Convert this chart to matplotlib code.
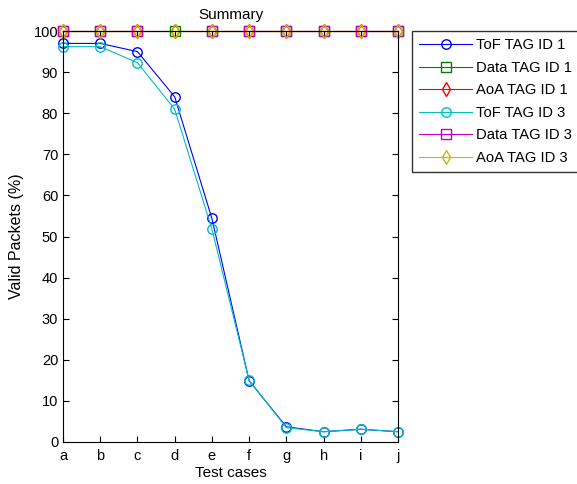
import matplotlib.pyplot as plt
import numpy as np

plt.rcParams['font.family'] = ['Liberation Sans', 'DejaVu Sans']

cases = ['a', 'b', 'c', 'd', 'e', 'f', 'g', 'h', 'i', 'j']
tof_1 = [97.0, 97.0, 95.0, 84.0, 54.4, 14.9, 3.7, 2.5, 3.1, 2.5]
data_1 = [100, 100, 100, 100, 100, 100, 100, 100, 100, 100]
aoa_1 = [100, 100, 100, 100, 100, 100, 100, 100, 100, 100]
tof_3 = [96.2, 96.2, 92.3, 81.0, 51.8, 15.0, 3.5, 2.5, 3.1, 2.5]
data_3 = [100, 100, 100, np.nan, 100, 100, 100, 100, 100, 100]
aoa_3 = [100, 100, 100, 100, 100, 100, 100, 100, 100, 100]

x = np.arange(1, len(cases) + 1)

fig = plt.figure(figsize=(5.77, 4.84), dpi=100)
ax = fig.add_axes([0.1092, 0.0868, 0.5806, 0.849])

series = [
    (tof_1, 'b', 'o', 'ToF TAG ID 1'),
    (data_1, 'g', 's', 'Data TAG ID 1'),
    (aoa_1, 'r', 'd', 'AoA TAG ID 1'),
    (tof_3, 'c', 'o', 'ToF TAG ID 3'),
    (data_3, 'm', 's', 'Data TAG ID 3'),
    (aoa_3, 'y', 'd', 'AoA TAG ID 3'),
]
for vals, col, mk, lab in series:
    ax.plot(x, vals, color=col, marker=mk, markerfacecolor='none',
            markersize=6.8, linewidth=0.8, label=lab, clip_on=False)

ax.set_xlim(1, 10)
ax.set_ylim(0, 100)
ax.set_xticks(x)
ax.set_xticklabels(cases)
ax.set_yticks(np.arange(0, 101, 10))
ax.tick_params(direction='in', top=True, right=True, labelsize=10.5,
               length=4)
ax.tick_params(axis='x', pad=5)
ax.set_xlabel('Test cases', fontsize=11, labelpad=2)
ax.set_ylabel('Valid Packets (%)', fontsize=11.5, labelpad=7)
ax.set_title('Summary', fontsize=11, pad=9)

# legend sits outside the axes, to the right
ax.legend(loc='upper left', bbox_to_anchor=(0.714, 0.936),
          bbox_transform=fig.transFigure, fontsize=10.6, frameon=True,
          fancybox=False, edgecolor='black', handlelength=3.6,
          borderaxespad=0, borderpad=0.5, labelspacing=0.58,
          handletextpad=0.25)

fig.savefig('out.png', dpi=100)
